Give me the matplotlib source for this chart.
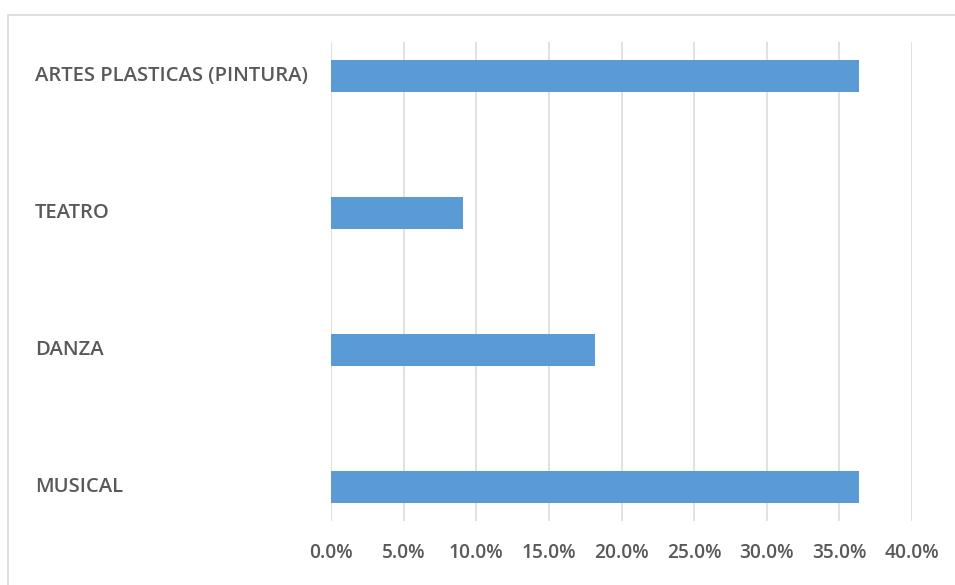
import matplotlib
matplotlib.use("Agg")
import matplotlib.pyplot as plt
from matplotlib.patches import Rectangle
from matplotlib.ticker import FuncFormatter
import matplotlib.transforms as mtransforms

categories = ["MUSICAL", "DANZA", "TEATRO", "ARTES PLASTICAS (PINTURA)"]
values = [36.36, 18.18, 9.09, 36.36]
x_ticks = [0, 5, 10, 15, 20, 25, 30, 35, 40]

plt.rcParams['font.family'] = ['Open Sans', 'DejaVu Sans']

W, H = 955, 585
fig = plt.figure(figsize=(W / 100, H / 100), dpi=100)
fig.patch.set_facecolor('white')

# outer chart border (light gray), extends beyond the right/bottom edges
fig.patches.append(Rectangle((8 / W, -0.1), 1.2, 1 - 15 / H + 0.1, transform=fig.transFigure,
                             fill=False, edgecolor='#d9d9d9', linewidth=1.2))

ax = fig.add_axes([331 / W, 1 - 521 / H, (912 - 331) / W, (521 - 42) / H])
ypos = list(range(len(categories)))
ax.barh(ypos, values, height=0.24, color='#5b9bd5', zorder=3)

ax.set_xlim(0, 40)
ax.set_ylim(-0.248, len(categories) - 1 + 0.248)
ax.set_xticks(x_ticks)
ax.xaxis.set_major_formatter(FuncFormatter(lambda v, p: f"{v:.1f}%"))
ax.tick_params(axis='x', length=0, pad=16, labelsize=13.8, colors='#595959')
for t in ax.get_xticklabels():
    t.set_fontweight('semibold')
ax.set_yticks([])
ax.grid(axis='x', color='#d9d9d9', linewidth=1.1, zorder=0)
for s in ax.spines.values():
    s.set_visible(False)

trans = mtransforms.blended_transform_factory(fig.transFigure, ax.transData)
for y, lab in zip(ypos, categories):
    ax.text(35 / W, y, lab, transform=trans, ha='left', va='center',
            fontsize=14.6, fontweight='semibold', color='#595959')

fig.savefig("out.png", dpi=100, facecolor='white')
